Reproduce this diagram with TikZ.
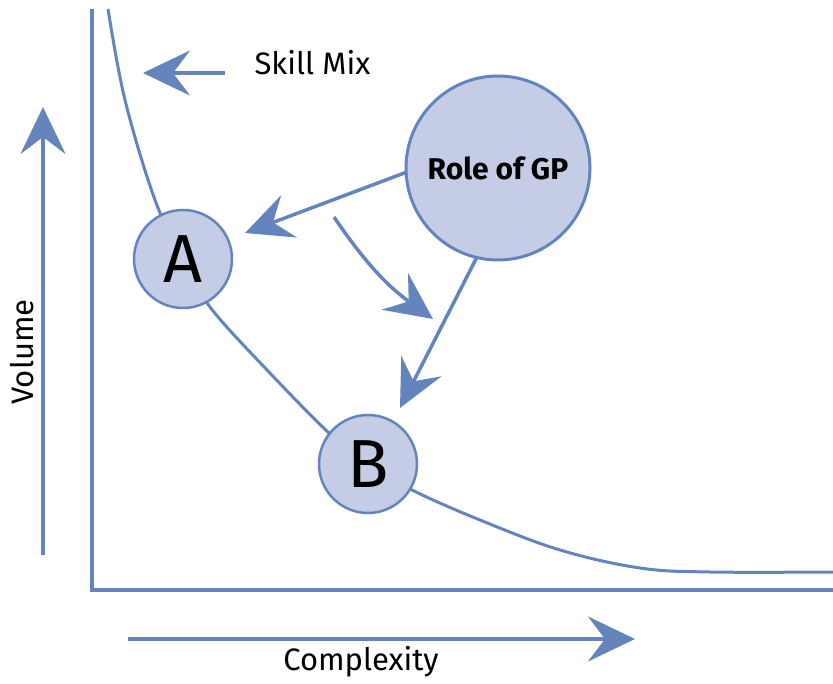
\documentclass[tikz,border=0pt]{standalone}
\usepackage{fontspec}
\setmainfont{Fira Sans}
\usetikzlibrary{arrows.meta}
\definecolor{ln}{RGB}{100,132,190}
\definecolor{fl}{RGB}{197,204,230}
\begin{document}
\begin{tikzpicture}[x=1pt,y=-1pt,
  head/.style={-{Stealth[length=47pt,width=45pt,inset=17pt]}},
  axis/.style={draw=ln,line width=4pt},
  conn/.style={draw=ln,line width=3.5pt},
  circ/.style={circle,draw=ln,fill=fl,line width=2.5pt,inner sep=0pt},
  lbl/.style={font=\fontsize{31}{36}\selectfont,text=black}]
\useasboundingbox (0,0) rectangle (833,684);
% curve
\draw[ln,line width=3pt] plot[smooth,tension=0.6] coordinates
  {(108,9) (125,100) (155,200) (183,259) (210,307) (268,371) (330,434) (368,464) (412,490) (480,520) (560,550) (640,568) (710,572) (833,572)};
% axes
\draw[axis] (92,9) -- (92,590) -- (833,590);
% coordinates
\coordinate (vb) at (43,555);
\coordinate (vt) at (43,107);
\coordinate (cb) at (128,639);
\coordinate (ct) at (635,639);
\coordinate (sb) at (225,73);
\coordinate (st) at (143,73);
\coordinate (ra) at (407,172);
\coordinate (at) at (245,233);
\coordinate (mb) at (334,217);
\coordinate (mt) at (433,319);
\coordinate (rb) at (477,257);
\coordinate (bt) at (400,408);
% circles
\node[circ,minimum size=98pt,font=\fontsize{68}{70}\selectfont] (A) at (183,259) {A};
\node[circ,minimum size=98pt,font=\fontsize{68}{70}\selectfont] (B) at (368,464) {B};
\node[circ,minimum size=184pt,line width=3pt,font=\fontsize{30}{36}\selectfont\bfseries] (role) at (498,168) {Role of GP};
% arrows
\draw[axis,head] (vb) -- (vt);
\draw[axis,head] (cb) -- (ct);
\draw[axis,head] (sb) -- (st);
\draw[conn,head] (ra) -- (at);
\draw[conn,head] (mb) to[bend right=10] (mt);
\draw[conn,head] (rb) -- (bt);
% labels
\node[lbl,anchor=west] (skill) at (251,63) {Skill Mix};
\node[lbl] (cplx) at (361,662) {Complexity};
\node[lbl,rotate=90] (vol) at (22,352) {Volume};
\end{tikzpicture}
\end{document}
